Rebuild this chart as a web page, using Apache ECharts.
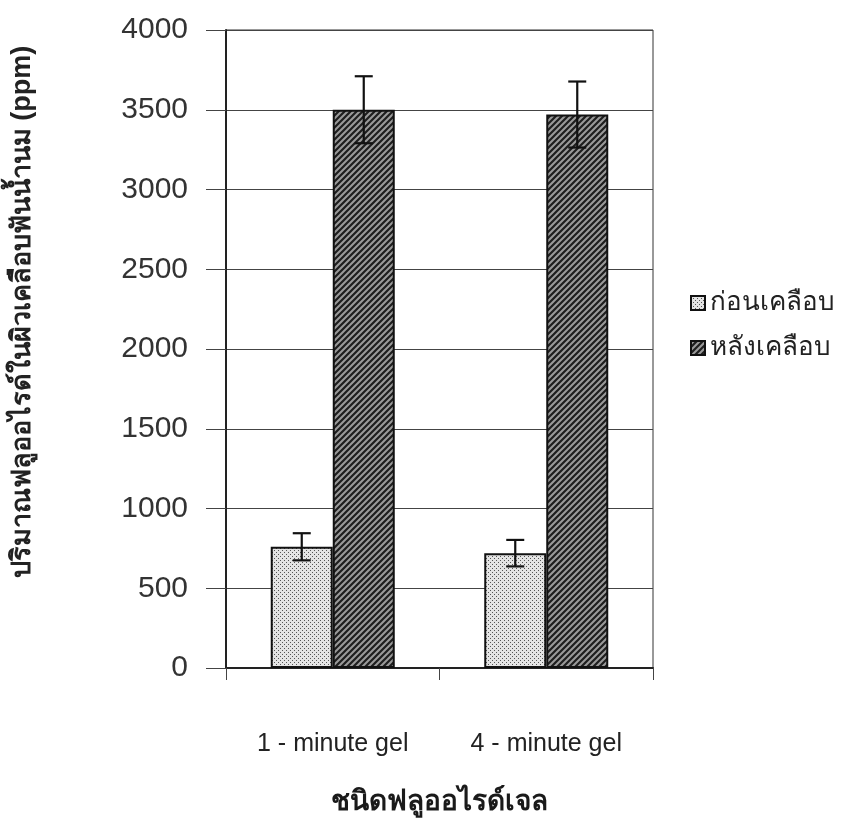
<!DOCTYPE html>
<html>
<head>
<meta charset="utf-8">
<script src="https://cdn.jsdelivr.net/npm/echarts@6/dist/echarts.min.js"></script>
<style>
  html, body { margin: 0; padding: 0; background: #fff; }
  #chart { width: 854px; height: 833px; }
</style>
</head>
<body>
<div id="chart"></div>
<script>
// data
var categories = ['1 - minute gel', '4 - minute gel'];
var seriesNames = ['ก่อนเคลือบ', 'หลังเคลือบ'];
var beforeVals = [760, 720];
var beforeErr = [85, 83];
var afterVals = [3500, 3470];
var afterErr = [210, 207];
var yTicks = [0, 500, 1000, 1500, 2000, 2500, 3000, 3500, 4000];

function dotPattern() {
  var c = document.createElement('canvas');
  c.width = 4; c.height = 4;
  var ctx = c.getContext('2d');
  ctx.fillStyle = '#e4e4e4';
  ctx.fillRect(0, 0, 4, 4);
  ctx.fillStyle = '#555';
  ctx.fillRect(0, 0, 1, 1);
  ctx.fillRect(2, 2, 1, 1);
  return c;
}
function hatchPattern() {
  var c = document.createElement('canvas');
  c.width = 6; c.height = 6;
  var ctx = c.getContext('2d');
  ctx.fillStyle = '#9a9a9a';
  ctx.fillRect(0, 0, 6, 6);
  ctx.strokeStyle = '#1e1e1e';
  ctx.lineWidth = 2.2;
  ctx.beginPath();
  ctx.moveTo(-1, 7); ctx.lineTo(7, -1);
  ctx.moveTo(-4, 4); ctx.lineTo(4, -4);
  ctx.moveTo(2, 10); ctx.lineTo(10, 2);
  ctx.stroke();
  return c;
}

var barW = 62;

function errorSeries(vals, errs, offset) {
  var data = [];
  for (var i = 0; i < vals.length; i++) {
    data.push([i, vals[i] - errs[i], vals[i] + errs[i]]);
  }
  return {
    type: 'custom',
    silent: true,
    z: 10,
    data: data,
    renderItem: function (params, api) {
      var lo = api.coord([api.value(0), api.value(1)]);
      var hi = api.coord([api.value(0), api.value(2)]);
      var x = lo[0] + offset;
      var cap = 9;
      var st = { stroke: '#111', lineWidth: 2.2 };
      return {
        type: 'group',
        children: [
          { type: 'line', shape: { x1: x, y1: lo[1], x2: x, y2: hi[1] }, style: st },
          { type: 'line', shape: { x1: x - cap, y1: lo[1], x2: x + cap, y2: lo[1] }, style: st },
          { type: 'line', shape: { x1: x - cap, y1: hi[1], x2: x + cap, y2: hi[1] }, style: st }
        ]
      };
    }
  };
}

var chart = echarts.init(document.getElementById('chart'));
var option = {
  animation: false,
  textStyle: { fontFamily: 'Liberation Sans, Noto Sans, sans-serif' },
  grid: {
    left: 226, right: 201, top: 30, bottom: 165,
    show: true, borderColor: '#333', borderWidth: 1
  },
  legend: {
    orient: 'vertical',
    left: 690, top: 290,
    padding: 0,
    itemWidth: 14, itemHeight: 14, itemGap: 19,
    icon: 'rect',
    data: seriesNames,
    textStyle: { fontSize: 26, lineHeight: 26, color: '#222' }
  },
  xAxis: {
    type: 'category',
    data: categories,
    name: 'ชนิดฟลูออไรด์เจล',
    nameLocation: 'middle',
    nameGap: 120,
    nameTextStyle: { fontSize: 28, fontWeight: 'bold', color: '#1a1a1a' },
    axisLine: { lineStyle: { color: '#222', width: 2 } },
    axisTick: { show: true, length: 12, lineStyle: { color: '#444' } },
    axisLabel: { fontSize: 25, color: '#222', margin: 64 }
  },
  yAxis: {
    type: 'value',
    min: 0, max: 4000, interval: 500,
    name: 'ปริมาณฟลูออไรด์ในผิวเคลือบฟันน้ำนม (ppm)',
    nameLocation: 'middle',
    nameRotate: 90,
    nameGap: 190,
    nameTextStyle: { fontSize: 27, fontWeight: 'bold', color: '#222', padding: [0, 0, 0, 74] },
    axisLine: { show: true, lineStyle: { color: '#222', width: 2 } },
    axisTick: { show: true, length: 20, lineStyle: { color: '#444' } },
    axisLabel: {
      fontSize: 30, color: '#333', margin: 38,
      formatter: function (v) { return yTicks.indexOf(v) >= 0 ? String(v) : ''; }
    },
    splitLine: { show: true, lineStyle: { color: '#444', width: 1 } }
  },
  series: [
    {
      name: seriesNames[0],
      type: 'bar',
      data: beforeVals,
      barWidth: barW,
      barGap: '0%',
      itemStyle: {
        color: { image: dotPattern(), repeat: 'repeat' },
        borderColor: '#111', borderWidth: 2
      }
    },
    {
      name: seriesNames[1],
      type: 'bar',
      data: afterVals,
      barWidth: barW,
      barGap: '0%',
      itemStyle: {
        color: { image: hatchPattern(), repeat: 'repeat' },
        borderColor: '#111', borderWidth: 2
      }
    },
    errorSeries(beforeVals, beforeErr, -barW / 2),
    errorSeries(afterVals, afterErr, barW / 2)
  ]
};
chart.setOption(option);
</script>
</body>
</html>
